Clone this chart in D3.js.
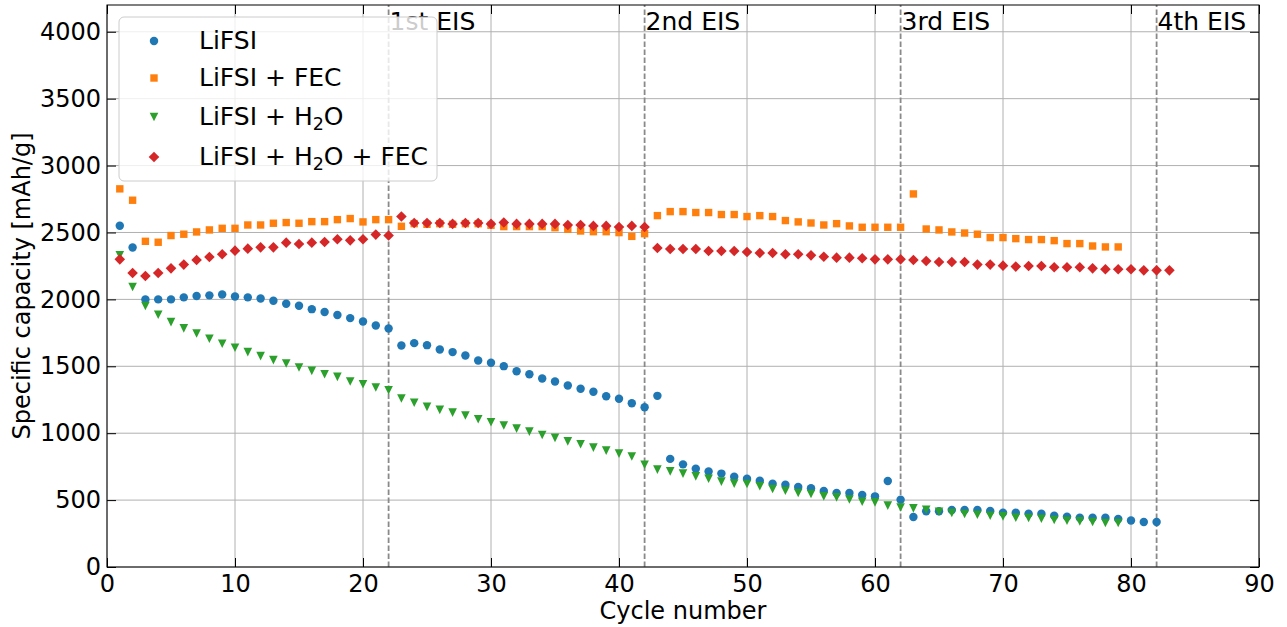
<!DOCTYPE html>
<html>
<head>
<meta charset="utf-8">
<script src="https://cdn.jsdelivr.net/npm/d3@7"></script>
<style>
  html, body { margin: 0; padding: 0; background: #fff; }
  svg { display: block; font-family: "DejaVu Sans", sans-serif; }
</style>
</head>
<body>
<svg id="chart" width="1287" height="627"></svg>
<script>
// Specific capacity per cycle for four electrolyte formulations (mAh/g)
const lifsi = [2550, 2387, 2000, 2000, 2000, 2015, 2025, 2030, 2037, 2022,
  2015, 2007, 1990, 1968, 1953, 1927, 1905, 1883, 1860, 1835,
  1805, 1783, 1656, 1673, 1658, 1626, 1606, 1581, 1543, 1526,
  1501, 1463, 1441, 1409, 1386, 1356, 1332, 1309, 1276, 1257,
  1224, 1194, 1279, 808, 767, 735, 713, 698, 675, 660,
  645, 623, 615, 598, 588, 568, 553, 553, 538, 528,
  643, 503, 373, 416, 416, 426, 426, 426, 418, 406,
  406, 398, 398, 383, 376, 368, 368, 368, 358, 348,
  336, 336];

const lifsiFec = [2826, 2741, 2434, 2427, 2477, 2487, 2504, 2519, 2531, 2531,
  2556, 2556, 2569, 2574, 2569, 2581, 2581, 2596, 2604, 2579,
  2596, 2596, 2546, 2566, 2561, 2566, 2561, 2566, 2566, 2554,
  2544, 2544, 2544, 2544, 2536, 2524, 2511, 2506, 2506, 2499,
  2471, 2491, 2626, 2656, 2656, 2649, 2649, 2634, 2634, 2619,
  2626, 2619, 2589, 2579, 2571, 2556, 2566, 2549, 2539, 2539,
  2539, 2539, 2788, 2526, 2519, 2504, 2496, 2487, 2462, 2462,
  2454, 2447, 2447, 2439, 2417, 2417, 2399, 2392, 2392];

const lifsiH2o = [2330, 2092, 1950, 1885, 1830, 1783, 1745, 1706, 1668, 1638,
  1606, 1576, 1546, 1521, 1491, 1466, 1441, 1421, 1386, 1366,
  1341, 1321, 1259, 1227, 1197, 1174, 1154, 1132, 1104, 1082,
  1057, 1034, 1012, 987, 965, 939, 917, 892, 870, 847,
  826, 764, 728, 715, 698, 677, 660, 638, 623, 620,
  603, 583, 570, 553, 546, 528, 520, 505, 488, 483,
  459, 445, 438, 428, 413, 403, 396, 391, 383, 378,
  368, 366, 361, 351, 346, 341, 336, 329, 329];

const lifsiH2oFec = [2299, 2197, 2175, 2197, 2232, 2260, 2294, 2317, 2337, 2364,
  2379, 2389, 2389, 2424, 2414, 2424, 2429, 2449, 2441, 2449,
  2484, 2477, 2619, 2571, 2571, 2571, 2564, 2571, 2571, 2564,
  2574, 2564, 2564, 2564, 2564, 2556, 2556, 2549, 2549, 2541,
  2549, 2541, 2384, 2377, 2377, 2377, 2362, 2362, 2362, 2354,
  2347, 2347, 2337, 2337, 2329, 2319, 2312, 2312, 2307, 2299,
  2299, 2299, 2294, 2287, 2279, 2279, 2279, 2260, 2260, 2252,
  2245, 2250, 2250, 2240, 2240, 2240, 2232, 2225, 2225, 2225,
  2217, 2217, 2217];

// Cycles at which impedance spectroscopy was run
const eisCycles = [22, 42, 62, 82];
const eisLabels = ["1st EIS", "2nd EIS", "3rd EIS", "4th EIS"];

const xTicks = [0, 10, 20, 30, 40, 50, 60, 70, 80, 90];
const yTicks = [0, 500, 1000, 1500, 2000, 2500, 3000, 3500, 4000];

const seriesNames = ["LiFSI", "LiFSI + FEC", "LiFSI + H2O", "LiFSI + H2O + FEC"];
const seriesColors = ["#1f77b4", "#ff7f0e", "#2ca02c", "#d62728"];

const series = [
  { values: lifsi, shape: "circle" },
  { values: lifsiFec, shape: "square" },
  { values: lifsiH2o, shape: "triangle" },
  { values: lifsiH2oFec, shape: "diamond" }
].map((s, i) => ({ ...s, name: seriesNames[i], color: seriesColors[i] }));

const svg = d3.select("#chart");
const margin = { left: 107, right: 28, top: 5, bottom: 60 };
const W = 1287, H = 627;
const x = d3.scaleLinear().domain([0, 90]).range([margin.left, W - margin.right]);
const y = d3.scaleLinear().domain([0, 4200]).range([H - margin.bottom, margin.top]);

const tickFont = 24;
const textFont = 25;

// grid
const grid = svg.append("g");
grid.selectAll(".gx").data(xTicks).join("line")
  .attr("x1", d => x(d)).attr("x2", d => x(d))
  .attr("y1", y(0)).attr("y2", y(4200))
  .attr("stroke", "#b0b0b0").attr("stroke-width", 1);
grid.selectAll(".gy").data(yTicks).join("line")
  .attr("x1", x(0)).attr("x2", x(90))
  .attr("y1", d => y(d)).attr("y2", d => y(d))
  .attr("stroke", "#b0b0b0").attr("stroke-width", 1);

// EIS markers
const eis = svg.append("g");
eis.selectAll("line").data(eisCycles).join("line")
  .attr("x1", d => x(d)).attr("x2", d => x(d))
  .attr("y1", y(0)).attr("y2", y(4200))
  .attr("stroke", "#8a8a8a").attr("stroke-width", 1.8)
  .attr("stroke-dasharray", "5.5,2.5");
eis.selectAll("text").data(eisCycles).join("text")
  .attr("x", d => x(d) + 1).attr("y", y(4200) + 25)
  .attr("font-size", textFont).attr("fill", "#000")
  .text((d, i) => eisLabels[i]);

// markers
function symbolPath(s) {
  if (s.shape === "diamond") {
    const r = 5.3;
    return `M0,${-r}L${r},0L0,${r}L${-r},0Z`;
  }
  if (s.shape === "triangle") {
    const r = 4.3;
    return `M${-r},${-r}L${r},${-r}L0,${r}Z`;
  }
  if (s.shape === "square") {
    const h = 3.7;
    return `M${-h},${-h}H${h}V${h}H${-h}Z`;
  }
  return d3.symbol().type(d3.symbolCircle).size(56)();
}

series.forEach(s => {
  const path = symbolPath(s);
  svg.append("g").selectAll("path").data(s.values).join("path")
    .attr("d", path)
    .attr("transform", (d, i) => `translate(${x(i + 1)},${y(d)})`)
    .attr("fill", s.color);
});

// axes: frame with inward ticks on all sides
const frame = svg.append("g");
frame.append("rect")
  .attr("x", x(0)).attr("y", y(4200))
  .attr("width", x(90) - x(0)).attr("height", y(0) - y(4200))
  .attr("fill", "none").attr("stroke", "#000").attr("stroke-width", 1);

const tickLen = 9;
const fmt = d3.format("d");
const xAxisB = d3.axisBottom(x).tickValues(xTicks).tickSizeInner(-tickLen).tickSizeOuter(0).tickPadding(8).tickFormat(fmt);
const xAxisT = d3.axisTop(x).tickValues(xTicks).tickSizeInner(-tickLen).tickSizeOuter(0).tickFormat("");
const yAxisL = d3.axisLeft(y).tickValues(yTicks).tickSizeInner(-tickLen).tickSizeOuter(0).tickPadding(6).tickFormat(fmt);
const yAxisR = d3.axisRight(y).tickValues(yTicks).tickSizeInner(-tickLen).tickSizeOuter(0).tickFormat("");

function styleAxis(g) {
  g.select(".domain").remove();
  g.selectAll(".tick line").attr("stroke", "#000").attr("stroke-width", 1);
  g.selectAll(".tick text").attr("font-size", tickFont).attr("fill", "#000")
    .attr("font-family", "DejaVu Sans, sans-serif");
}
svg.append("g").attr("transform", `translate(0,${y(0)})`).call(xAxisB).call(styleAxis);
svg.append("g").attr("transform", `translate(0,${y(4200)})`).call(xAxisT).call(styleAxis);
svg.append("g").attr("transform", `translate(${x(0)},0)`).call(yAxisL).call(styleAxis);
svg.append("g").attr("transform", `translate(${x(90)},0)`).call(yAxisR).call(styleAxis);

// axis titles
svg.append("text")
  .attr("x", (x(0) + x(90)) / 2).attr("y", H - 8)
  .attr("text-anchor", "middle").attr("font-size", tickFont)
  .text("Cycle number");
svg.append("text")
  .attr("transform", `translate(30,${(y(0) + y(4200)) / 2}) rotate(-90)`)
  .attr("text-anchor", "middle").attr("font-size", tickFont)
  .text("Specific capacity [mAh/g]");

// legend
const lg = svg.append("g");
lg.append("rect")
  .attr("x", 119).attr("y", 17).attr("width", 318).attr("height", 164)
  .attr("rx", 5).attr("fill", "#fff").attr("fill-opacity", 0.8)
  .attr("stroke", "#cccccc").attr("stroke-width", 1);
const rowY = [41, 78, 117, 157];
series.forEach((s, i) => {
  lg.append("path")
    .attr("d", symbolPath(s))
    .attr("transform", `translate(154,${rowY[i]})`)
    .attr("fill", s.color);
  const t = lg.append("text")
    .attr("x", 199).attr("y", rowY[i] + 8)
    .attr("font-size", textFont).attr("fill", "#000");
  const parts = s.name.split("H2O");
  t.append("tspan").text(parts[0]);
  if (parts.length > 1) {
    t.append("tspan").text("H");
    t.append("tspan").attr("font-size", textFont * 0.7).attr("dy", 5).text("2");
    t.append("tspan").attr("dy", -5).text("O" + parts[1]);
  }
});
</script>
</body>
</html>
